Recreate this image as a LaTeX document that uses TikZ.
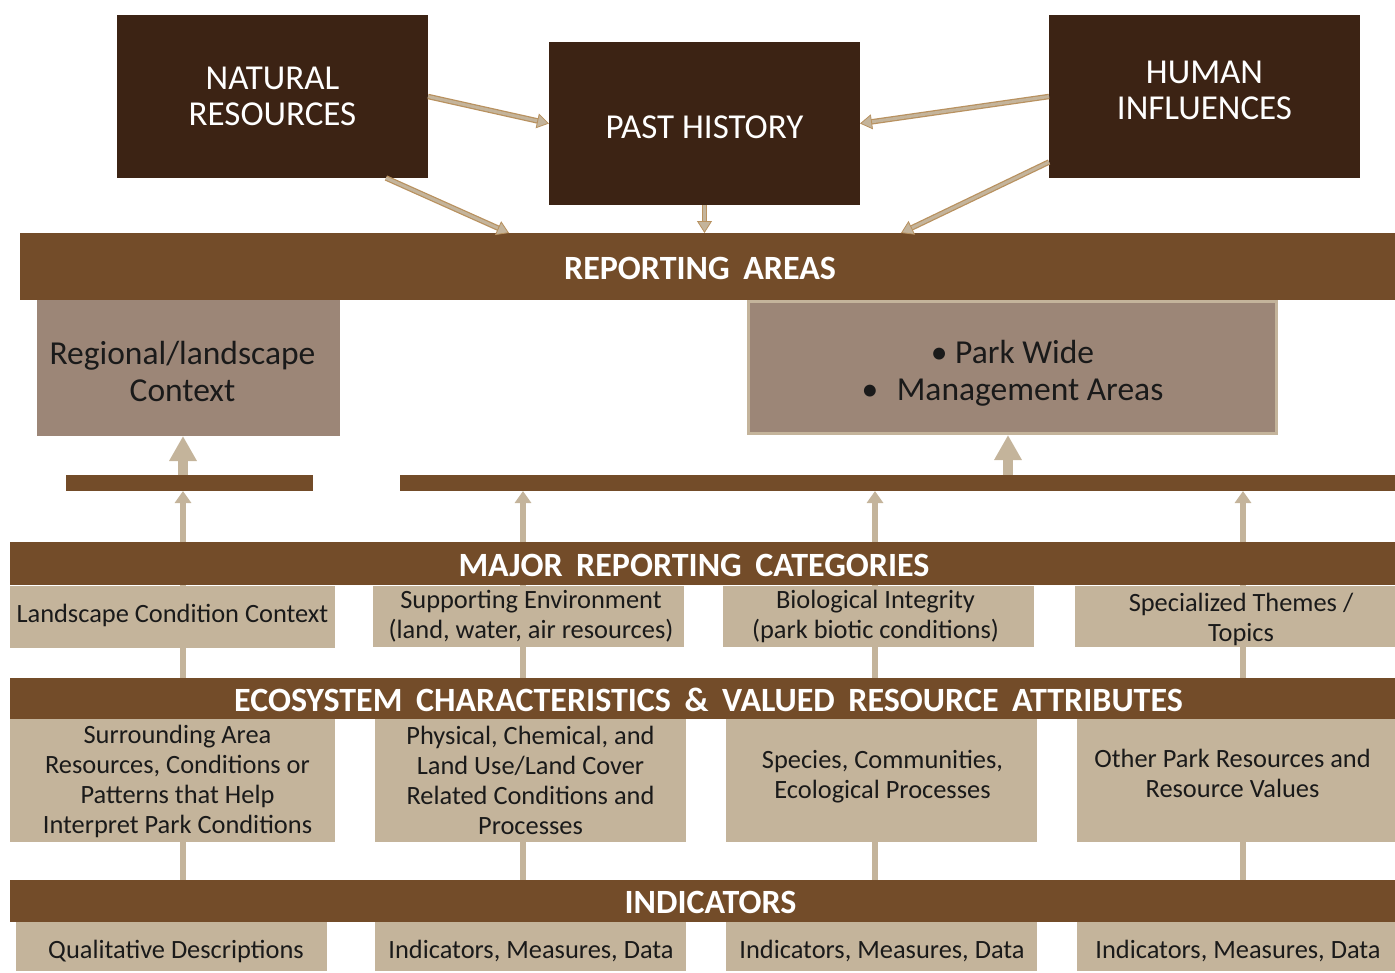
\documentclass[tikz,border=0pt]{standalone}
\usepackage{fontspec}
\setmainfont{Carlito}
\usetikzlibrary{arrows.meta,calc}
\pgfdeclarelayer{bg}
\pgfsetlayers{bg,main}
\definecolor{darkbox}{HTML}{3C2314}
\definecolor{barbrown}{HTML}{734C29}
\definecolor{tanbox}{HTML}{C4B49B}
\definecolor{greybox}{HTML}{9C8677}
\definecolor{arrowedge}{HTML}{B8915F}
\definecolor{inktext}{HTML}{1A1A1A}
\newcommand\wgap{\hspace{0.4em}}
\begin{document}
\begin{tikzpicture}[x=1pt,y=-1pt,
  every node/.style={inner sep=0pt, outer sep=0pt, align=center},
  % box fills
  topbox/.style={fill=darkbox},
  headbar/.style={fill=barbrown},
  thinbar/.style={fill=barbrown},
  areabox/.style={fill=greybox},
  itembox/.style={fill=tanbox},
  % text looks
  toptxt/.style={text=white, font=\fontsize{35}{36}\selectfont},
  headtxt/.style={text=white, font=\fontsize{34}{38}\bfseries\selectfont},
  areatxt/.style={text=inktext, font=\fontsize{33.5}{37}\selectfont},
  itemtxt/.style={text=inktext, font=\fontsize{26.4}{30}\selectfont},
  % text placed inside a box: style, x offset, y offset, text
  lab/.style n args={4}{label={[#1, xshift=#2pt, yshift=#3pt]center:{#4}}},
  wh/.style 2 args={minimum width=#1pt, minimum height=#2pt},
  % connectors
  vline/.style={draw=tanbox, line width=6pt},
  toparrow/.style={draw=tanbox, line width=3pt,
    preaction={draw=arrowedge, line width=5.5pt, arrows=-, shorten >=11pt},
    -{Triangle[length=12pt, width=15pt, color=arrowedge, fill=tanbox, line width=0.8pt]}},
  uparrow/.style={draw=tanbox, line width=6pt, -{Triangle[length=12pt, width=16pt]}},
  bigarrow/.style={draw=tanbox, line width=10pt, -{Triangle[length=25pt, width=26pt]}}
]
\useasboundingbox (0,0) rectangle (1395,972);

% column positions of the vertical links
\coordinate (c1) at (183,0);
\coordinate (c2) at (523,0);
\coordinate (c3) at (875,0);
\coordinate (c4) at (1243,0);
\coordinate (c5) at (1008,0);

% top drivers
\node[topbox, wh={311}{163}, lab={toptxt}{0}{0}{NATURAL\\RESOURCES}] (nat) at (272.5,96.5) {};
\node[topbox, wh={311}{163}, lab={toptxt}{0}{-4}{PAST HISTORY}] (past) at (704.5,123.5) {};
\node[topbox, wh={311}{163}, lab={toptxt}{0}{6.5}{HUMAN\\INFLUENCES}] (hum) at (1204.5,96.5) {};

% reporting areas
\node[headbar, wh={1375}{67}, lab={headtxt}{-7.5}{-2}{REPORTING\wgap AREAS}] (rep) at (707.5,266.5) {};
\node[areabox, wh={303}{136}, lab={areatxt}{-6}{-3}{Regional/landscape\\Context}] (regional) at (188.5,368) {};
\node[areabox, draw=tanbox, line width=3pt, wh={528}{132},
  lab={areatxt}{0}{-5.5}{\textbullet\ Park Wide\\\textbullet\hspace{0.55em}Management Areas}] (park) at (1012.5,367.5) {};

\node[thinbar, wh={247}{16}] (thinL) at (189.5,483) {};
\node[thinbar, wh={995}{16}] (thinR) at (897.5,483) {};

% major reporting categories
\node[headbar, wh={1385}{43}, lab={headtxt}{-8.5}{-2}{MAJOR\wgap REPORTING\wgap CATEGORIES}] (mrc) at (702.5,563.5) {};
\node[itembox, wh={325}{62}, lab={itemtxt}{0}{2}{Landscape Condition Context}] (cat1) at (172.5,617) {};
\node[itembox, wh={311}{61}, lab={itemtxt}{2.5}{0}{Supporting Environment\\(land, water, air resources)}] (cat2) at (528.5,616.5) {};
\node[itembox, wh={311}{61}, lab={itemtxt}{-3}{0}{Biological Integrity\\(park biotic conditions)}] (cat3) at (878.5,616.5) {};
\node[itembox, wh={320}{61}, lab={itemtxt}{6}{-2.5}{Specialized Themes /\\Topics}] (cat4) at (1235,616.5) {};

% ecosystem characteristics
\node[headbar, wh={1385}{41},
  lab={headtxt}{6}{-1.5}{ECOSYSTEM\wgap CHARACTERISTICS\wgap \&\wgap VALUED\wgap RESOURCE\wgap ATTRIBUTES}] (eco) at (702.5,698.5) {};
\node[itembox, wh={325}{123},
  lab={itemtxt}{5}{-0.5}{Surrounding Area\\Resources, Conditions or\\Patterns that Help\\Interpret Park Conditions}] (eco1) at (172.5,780.5) {};
\node[itembox, wh={311}{123},
  lab={itemtxt}{0}{0}{Physical, Chemical, and\\Land Use/Land Cover\\Related Conditions and\\Processes}] (eco2) at (530.5,780.5) {};
\node[itembox, wh={311}{123},
  lab={itemtxt}{1}{4}{Species, Communities,\\Ecological Processes}] (eco3) at (881.5,780.5) {};
\node[itembox, wh={318}{123},
  lab={itemtxt}{-3.5}{7}{Other Park Resources and\\Resource Values}] (eco4) at (1236,780.5) {};

% indicators
\node[headbar, wh={1385}{42}, lab={headtxt}{8}{-1}{INDICATORS}] (ind) at (702.5,901) {};
\node[itembox, wh={311}{49}, lab={itemtxt}{4.5}{-5}{Qualitative Descriptions}] (ind1) at (171.5,946.5) {};
\node[itembox, wh={311}{49}, lab={itemtxt}{0.5}{-5}{Indicators, Measures, Data}] (ind2) at (530.5,946.5) {};
\node[itembox, wh={311}{49}, lab={itemtxt}{0.5}{-5}{Indicators, Measures, Data}] (ind3) at (881.5,946.5) {};
\node[itembox, wh={318}{49}, lab={itemtxt}{2}{-5}{Indicators, Measures, Data}] (ind4) at (1236,946.5) {};

% vertical links behind the boxes
\begin{pgfonlayer}{bg}
  \foreach \c in {c1,c2,c3,c4}
    \draw[vline] (mrc.north -| \c) -- (ind.north -| \c);
\end{pgfonlayer}

% arrows between the drivers
\draw[toparrow] (nat.east) -- (past.west);
\draw[toparrow] (hum.west) -- (past.east);
\draw[toparrow] ([xshift=113.5pt]nat.south) -- ([xshift=-198.5pt]rep.north);
\draw[toparrow] ([yshift=-65.5pt]hum.west) -- ([xshift=193.5pt]rep.north);
\draw[toparrow] (past.south) -- (rep.north -| past.south);

% arrows up from the categories
\foreach \c in {c1,c2,c3,c4}
  \draw[uparrow] (mrc.north -| \c) -- (thinR.south -| \c);
\draw[bigarrow] (thinL.north -| c1) -- (regional.south -| c1);
\draw[bigarrow] (thinR.north -| c5) -- ([yshift=-1.5pt]park.south -| c5);
\end{tikzpicture}
\end{document}
